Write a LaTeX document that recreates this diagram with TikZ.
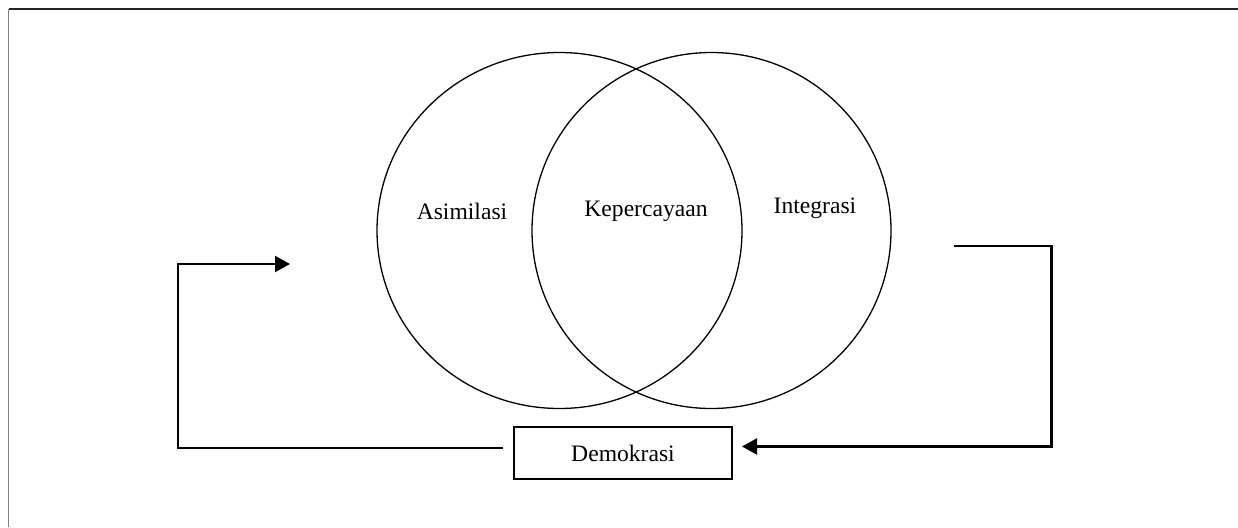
\documentclass[tikz,border=0pt]{standalone}
\usepackage{fontspec}
\setmainfont{Liberation Serif}
\usetikzlibrary{arrows.meta}
\begin{document}
\begin{tikzpicture}[x=1pt,y=-1pt,
  lbl/.style={font=\fontsize{23.6}{28}\selectfont, inner sep=0pt},
  ring/.style={draw=black, line width=1.3pt},
  conn/.style={draw=black, line width=2.2pt},
  arr/.style={conn, -{Triangle[length=15pt,width=16pt]}},
  boxstyle/.style={draw=black, line width=2.2pt, minimum width=218pt, minimum height=52pt, inner sep=0pt, font=\fontsize{23.6}{28}\selectfont}]
\useasboundingbox (0,0) rectangle (1238,527);
% frame
\draw[line width=1.5pt, color=black!85] (8.5,9) -- (1238,9);
\draw[line width=1.5pt, color=black!50] (8.5,9) -- (8.5,527);
% circles
\draw[ring] (559.5,230.5) ellipse [x radius=182.5, y radius=178];
\draw[ring] (711.5,230.5) ellipse [x radius=179.5, y radius=178];
% labels
\node[lbl] (asim) at (462,211) {Asimilasi};
\node[lbl] (kep) at (646,211) {Kepercayaan};
\node[lbl] (integ) at (815,208) {Integrasi};
% box
\node[boxstyle] (demo) at (623,453) {Demokrasi};
% connectors
\coordinate (lstart) at (503,448);
\coordinate (lend) at (290,264);
\coordinate (rstart) at (954,246);
\coordinate (rend) at (742,446.5);
\draw[arr] (lstart) -- (178,448) -- (178,264) -- (lend);
\draw[arr] (rstart) -- (1051.5,246) -- (1051.5,446.5) -- (rend);
\end{tikzpicture}
\end{document}
